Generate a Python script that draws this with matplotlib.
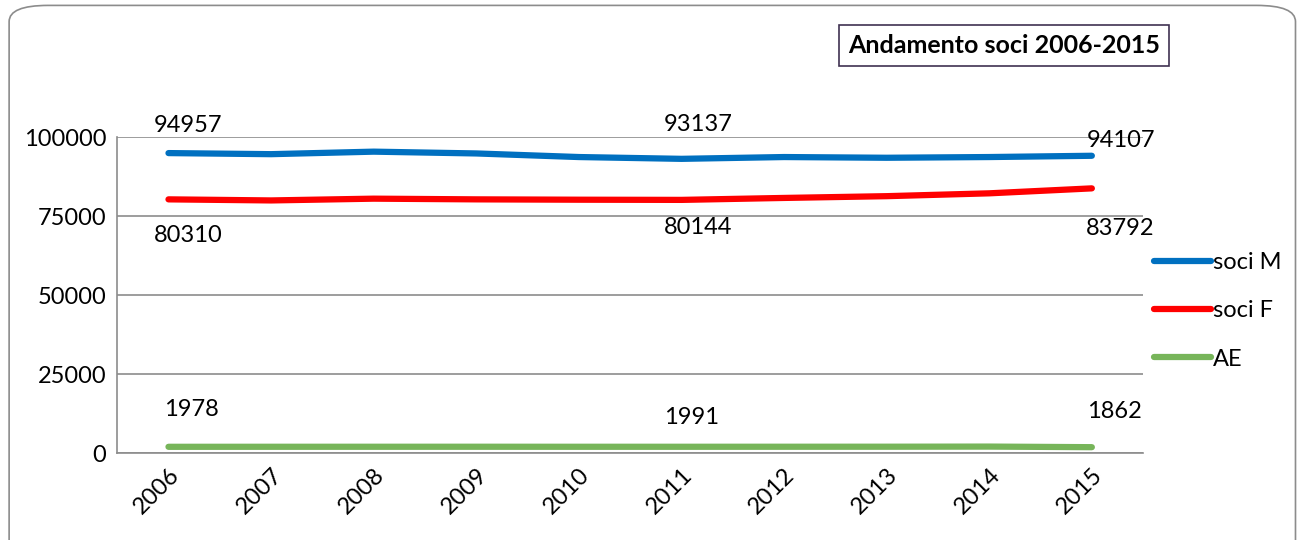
import matplotlib.pyplot as plt
from matplotlib.patches import FancyBboxPatch

plt.rcParams['font.family'] = ['Lato', 'DejaVu Sans']

years = ['2006', '2007', '2008', '2009', '2010', '2011', '2012', '2013', '2014', '2015']
soci_m = [94957, 94616, 95412, 94843, 93706, 93137, 93706, 93478, 93706, 94107]
soci_f = [80310, 79970, 80530, 80310, 80200, 80144, 80760, 81320, 82220, 83792]
ae = [1978, 1990, 1995, 2000, 1990, 1991, 2000, 2010, 2050, 1862]
labelled = [0, 5, 9]

# label offsets in pixels (dx, dy) for each labelled point
off_m = [(20, 28), (17, 34), (29, 15)]
off_f = [(20, -36), (17, -28), (28, -40)]
off_ae = [(23, 37), (10, 29), (23, 36)]

fig = plt.figure(figsize=(13.02, 5.4), dpi=100)
fig.patches.append(FancyBboxPatch((0.007, -0.05), 0.988, 1.04,
                                  boxstyle='round,pad=0,rounding_size=0.03',
                                  transform=fig.transFigure, fill=False,
                                  edgecolor='#8c8c8c', linewidth=1.2))

ax = fig.add_axes([0.090, 0.161, 0.788, 0.585])
x = list(range(len(years)))
series = [(soci_m, 'soci M', '#0070c0', off_m),
          (soci_f, 'soci F', '#ff0000', off_f),
          (ae, 'AE', '#77b55a', off_ae)]
for vals, name, col, offs in series:
    ax.plot(x, vals, color=col, linewidth=4.5, solid_capstyle='round', label=name)
    for i, (dx, dy) in zip(labelled, offs):
        ax.annotate(str(vals[i]), (x[i], vals[i]), xytext=(dx, dy),
                    textcoords='offset pixels', ha='center', va='center',
                    fontsize=17, color='black')

ax.set_xlim(-0.5, len(years) - 0.5)
ax.set_ylim(0, 100000)
ax.set_yticks([0, 25000, 50000, 75000, 100000])
ax.set_yticklabels(['0', '25000', '50000', '75000', '100000'], fontsize=17)
ax.set_xticks(x)
ax.set_xticklabels(years, rotation=45, ha='right', rotation_mode='anchor', fontsize=17)
ax.tick_params(length=0, pad=8)
ax.grid(axis='y', color='#8c8c8c', linewidth=1.2)
for s in ['top', 'right']:
    ax.spines[s].set_visible(False)
for s in ['left', 'bottom']:
    ax.spines[s].set_color('#8c8c8c')
    ax.spines[s].set_linewidth(1.2)

ax.legend(loc='center left', bbox_to_anchor=(0.99, 0.45), frameon=False,
          fontsize=17, handlelength=2.4, handletextpad=0.1, labelspacing=1.15)

fig.text(0.771, 0.916, 'Andamento soci 2006-2015', fontsize=18, fontweight='bold',
         ha='center', va='center',
         bbox=dict(boxstyle='square,pad=0.35', facecolor='white', edgecolor='#3f3151', linewidth=1.2))

fig.savefig('out.png', dpi=100)
